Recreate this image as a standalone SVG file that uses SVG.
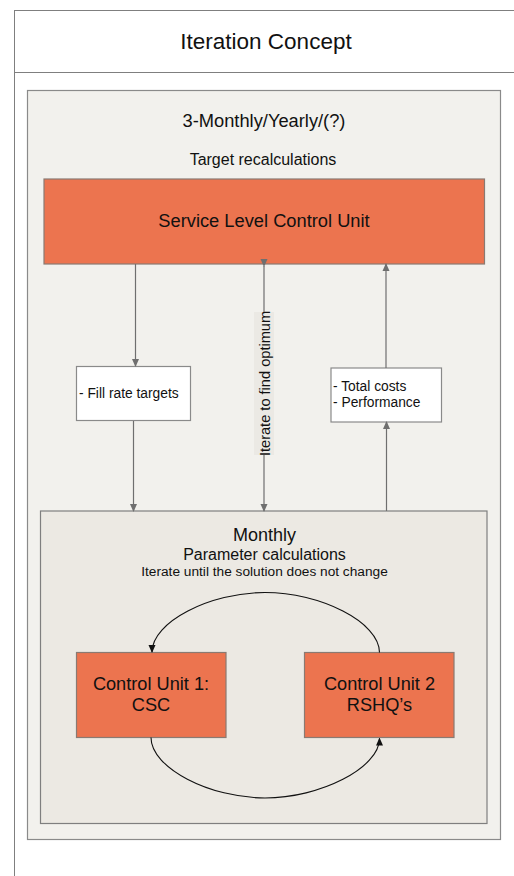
<svg xmlns="http://www.w3.org/2000/svg" width="514" height="876" viewBox="0 0 514 876">
  <style>
    text { font-family: "Liberation Sans", Arial, sans-serif; fill: #111; }
    .frame { fill: #ffffff; stroke: #7f7f7f; stroke-width: 1; }
    .outer { fill: #f2f1ed; stroke: #8a8a8a; stroke-width: 1.2; }
    .inner { fill: #ece9e3; stroke: #7f7f7f; stroke-width: 1.2; }
    .unit { fill: #ec744f; stroke: #8a7a72; stroke-width: 1.2; }
    .note { fill: #ffffff; stroke: #8a8a8a; stroke-width: 1.2; }
    .link { fill: none; stroke: #6f6f6f; stroke-width: 1.2; }
    .loop { fill: none; stroke: #111; stroke-width: 1.1; }
    .c { text-anchor: middle; }
  </style>
  <defs>
    <marker id="gray-arrow" markerWidth="8" markerHeight="8" refX="7" refY="4" orient="auto" markerUnits="userSpaceOnUse">
      <path d="M0,0.5 L8,4 L0,7.5 Z" fill="#6f6f6f"/>
    </marker>
    <marker id="black-arrow" markerWidth="8" markerHeight="8" refX="7" refY="4" orient="auto" markerUnits="userSpaceOnUse">
      <path d="M0,0.5 L8,4 L0,7.5 Z" fill="#111"/>
    </marker>
  </defs>

  <!-- page frame with title band -->
  <g id="frame">
    <rect class="frame" x="14.5" y="10.5" width="520" height="880"/>
    <line x1="14.5" y1="72.5" x2="514" y2="72.5" stroke="#7f7f7f" stroke-width="1"/>
    <text class="c" x="266" y="48.5" font-size="22.5">Iteration Concept</text>
  </g>

  <!-- quarterly / yearly level -->
  <g id="target-level">
    <rect class="outer" x="27.5" y="90.5" width="473" height="749"/>
    <text class="c" x="264" y="127" font-size="18.3">3-Monthly/Yearly/(?)</text>
    <text class="c" x="263" y="165" font-size="16">Target recalculations</text>
  </g>

  <g id="service-level-unit">
    <rect class="unit" x="44" y="179" width="440.5" height="85"/>
    <text class="c" x="264" y="227" font-size="18.3">Service Level Control Unit</text>
  </g>

  <g id="fill-rate">
    <rect class="note" x="76.5" y="366.5" width="114" height="54"/>
    <text x="79" y="398" font-size="13.8">- Fill rate targets</text>
  </g>

  <g id="costs-performance">
    <rect class="note" x="331" y="368" width="110.5" height="54"/>
    <text x="333" y="391" font-size="13.8">- Total costs</text>
    <text x="333" y="407" font-size="13.8">- Performance</text>
  </g>

  <!-- monthly level -->
  <g id="parameter-level">
    <rect class="inner" x="40.5" y="511" width="446.5" height="312.5"/>
    <text class="c" x="264.5" y="541" font-size="18">Monthly</text>
    <text class="c" x="264.5" y="560" font-size="16">Parameter calculations</text>
    <text class="c" x="264.5" y="576" font-size="13.7">Iterate until the solution does not change</text>
  </g>

  <g id="control-unit-1">
    <rect class="unit" x="76.5" y="652.5" width="149.5" height="85"/>
    <text class="c" x="151" y="690" font-size="18.2">Control Unit 1:</text>
    <text class="c" x="151" y="711" font-size="18.2">CSC</text>
  </g>

  <g id="control-unit-2">
    <rect class="unit" x="304.5" y="652.5" width="149.5" height="85"/>
    <text class="c" x="379.5" y="690" font-size="18.2">Control Unit 2</text>
    <text class="c" x="379.5" y="711" font-size="18.2">RSHQ’s</text>
  </g>

  <!-- connectors -->
  <g id="connectors">
    <line class="link" x1="135.5" y1="264" x2="135.5" y2="366" marker-end="url(#gray-arrow)"/>
    <line class="link" x1="133.5" y1="421" x2="133.5" y2="511" marker-end="url(#gray-arrow)"/>
    <line class="link" x1="264" y1="266" x2="264" y2="511" marker-start="url(#gray-arrow)" marker-end="url(#gray-arrow)"/>
    <line class="link" x1="386.5" y1="511" x2="386.5" y2="422" marker-end="url(#gray-arrow)"/>
    <line class="link" x1="386" y1="368" x2="386" y2="264" marker-end="url(#gray-arrow)"/>
    <rect x="254" y="312" width="20" height="143" fill="#ebe9e4"/>
    <text class="c" transform="translate(269.5,383.5) rotate(-90)" font-size="14.6">Iterate to find optimum</text>
    <path class="loop" d="M379.5,652.5 C379.5,622 320,592.5 265,592.5 C210,592.5 152,622 152,652" marker-end="url(#black-arrow)"/>
    <path class="loop" d="M151,737.5 C151,768 210,798 265,798 C320,798 379.5,768 379.5,738.5" marker-end="url(#black-arrow)"/>
  </g>
</svg>
